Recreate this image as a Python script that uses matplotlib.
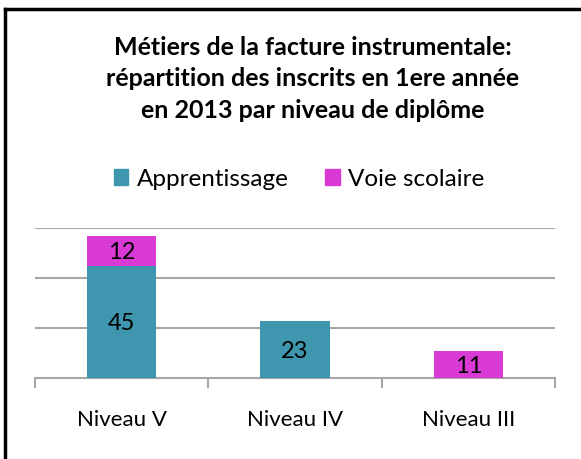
import matplotlib
matplotlib.use("Agg")
import matplotlib.pyplot as plt
from matplotlib.lines import Line2D
from matplotlib.patches import Rectangle

categories = ["Niveau V", "Niveau IV", "Niveau III"]
apprentissage = [45, 23, 0]
voie_scolaire = [12, 0, 11]
series_names = ["Apprentissage", "Voie scolaire"]
title = "Métiers de la facture instrumentale:\nrépartition des inscrits en 1ere année\nen 2013 par niveau de diplôme"

teal = "#3E97AE"
magenta = "#D93AD6"
grid_c = "#A6A6A6"

plt.rcParams['font.family'] = ['Lato', 'DejaVu Sans']

fig = plt.figure(figsize=(5.81, 4.59), dpi=100)
ax = fig.add_axes([35/581, 1-378/459, 520/581, 150/459])

x = list(range(len(categories)))
w = 0.4
ax.bar(x, apprentissage, width=w, color=teal, zorder=3)
ax.bar(x, voie_scolaire, width=w, bottom=apprentissage, color=magenta, zorder=3)

for i in x:
    a = apprentissage[i]; v = voie_scolaire[i]
    if a > 0:
        ax.annotate(str(a), (i, a/2), xytext=(0, -2), textcoords='offset pixels',
                    ha='center', va='center', fontsize=17, zorder=4)
    if v > 0:
        ax.annotate(str(v), (i, a + v/2), xytext=(0, -2), textcoords='offset pixels',
                    ha='center', va='center', fontsize=17, zorder=4)

ax.set_xlim(-0.5, 2.5)
ax.set_ylim(0, 60)
ax.set_yticks([20, 40, 60])
ax.yaxis.grid(True, color=grid_c, linewidth=1.5, zorder=0)
ax.tick_params(axis='y', length=0, labelleft=False)
ax.set_xticks([-0.5, 0.5, 1.5, 2.5])
ax.set_xticklabels([])
ax.tick_params(axis='x', length=7, width=1.5, color=grid_c, direction='out')
for i, c in enumerate(categories):
    ax.annotate(c, (i, 0), xytext=(0, -42), textcoords='offset pixels',
                ha='center', va='center', fontsize=16)
for s in ['top', 'right', 'left']:
    ax.spines[s].set_visible(False)
ax.spines['bottom'].set_color(grid_c)
ax.spines['bottom'].set_linewidth(1.5)

fig.text(313/581, 1-79/459, title, ha='center', va='center', fontsize=18,
         fontweight='bold', linespacing=1.45)

handles = [Rectangle((0, 0), 1, 1, color=teal), Rectangle((0, 0), 1, 1, color=magenta)]
fig.legend(handles, series_names, loc='center', bbox_to_anchor=(299/581, 1-179/459),
           ncol=2, frameon=False, fontsize=17.5, handlelength=0.6, handleheight=0.6,
           handletextpad=0.35, columnspacing=1.5)

fig.add_artist(Line2D([5/581, 5/581], [0, 1-8.5/459], transform=fig.transFigure, color='black', linewidth=2.5))
fig.add_artist(Line2D([5/581, 1], [1-8.5/459, 1-8.5/459], transform=fig.transFigure, color='black', linewidth=2.5))

fig.savefig("out.png", dpi=100)
